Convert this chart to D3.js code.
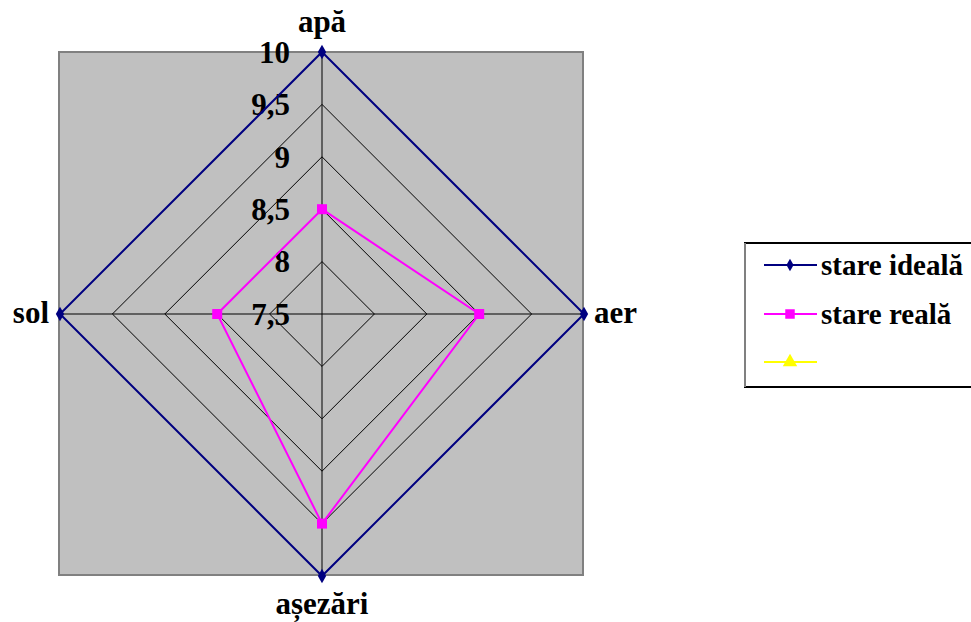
<!DOCTYPE html>
<html><head><meta charset="utf-8">
<script src="https://cdn.jsdelivr.net/npm/d3@7"></script>
<style>body{margin:0;background:#fff}svg{display:block}</style>
</head><body>
<script>
const categories = ["apă", "aer", "așezări", "sol"];
const ideal = [10, 10, 10, 10];
const real = [8.5, 9, 9.5, 8.5];
const ticks = [7.5, 8, 8.5, 9, 9.5, 10];
const tickLabels = ["7,5", "8", "8,5", "9", "9,5", "10"];
const seriesNames = ["stare ideală", "stare reală", ""];

const W = 971, H = 622;
const cx = 322, cy = 314, R = 262;
const svg = d3.select("body").append("svg").attr("width", W).attr("height", H);
const font = "'Liberation Serif','Times New Roman',serif";

svg.append("rect").attr("x", 59).attr("y", 52).attr("width", 524).attr("height", 523)
  .attr("fill", "#c0c0c0").attr("stroke", "#808080").attr("stroke-width", 2);

const r = d3.scaleLinear().domain([7.5, 10]).range([0, R]);
const ang = d3.scaleBand().domain(categories).range([0, 2 * Math.PI]);
const pt = (c, v) => {
  const a = ang(c);
  return [cx + r(v) * Math.sin(a), cy - r(v) * Math.cos(a)];
};

// grid rings
ticks.forEach(t => {
  svg.append("path").attr("d", d3.line()(categories.map(c => pt(c, t))) + "Z")
    .attr("fill", "none").attr("stroke", "#000").attr("stroke-width", 1);
});
// spokes
categories.forEach(c => {
  const p = pt(c, 10);
  svg.append("line").attr("x1", cx).attr("y1", cy).attr("x2", p[0]).attr("y2", p[1])
    .attr("stroke", "#000").attr("stroke-width", 1);
});

// tick labels
ticks.forEach((t, i) => {
  svg.append("text").attr("x", 290).attr("y", cy - r(t)).attr("dy", "0.35em")
    .attr("text-anchor", "end").attr("font-family", font).attr("font-weight", "bold")
    .attr("font-size", 31).text(tickLabels[i]);
});

// series
function drawSeries(vals, color, marker) {
  const pts = categories.map((c, i) => pt(c, vals[i]));
  svg.append("path").attr("d", d3.line()(pts) + "Z").attr("fill", "none")
    .attr("stroke", color).attr("stroke-width", 2);
  pts.forEach(p => {
    svg.append("path").attr("d", d3.symbol().type(marker).size(marker === d3.symbolDiamond ? 60 : 100)())
      .attr("transform", `translate(${p[0]},${p[1]})`).attr("fill", color);
  });
}
drawSeries(ideal, "#000080", d3.symbolDiamond);
drawSeries(real, "#ff00ff", d3.symbolSquare);

// category labels
const labPos = {
  "apă": [cx, 32, "middle"],
  "aer": [594, 323, "start"],
  "așezări": [cx, 614, "middle"],
  "sol": [49, 323, "end"]
};
categories.forEach(c => {
  const [x, y, a] = labPos[c];
  svg.append("text").attr("x", x).attr("y", y).attr("text-anchor", a)
    .attr("font-family", font).attr("font-weight", "bold").attr("font-size", 31).text(c);
});

// legend
const lg = svg.append("g");
lg.append("rect").attr("x", 745).attr("y", 243).attr("width", 240).attr("height", 144)
  .attr("fill", "#fff").attr("stroke", "#000").attr("stroke-width", 2);
lg.append("line").attr("x1", 745).attr("y1", 243).attr("x2", 745).attr("y2", 387)
  .attr("stroke", "#808080").attr("stroke-width", 2);
const lcolors = ["#000080", "#ff00ff", "#ffff00"];
const lmarks = [d3.symbolDiamond, d3.symbolSquare, d3.symbolTriangle];
const lys = [265, 314, 362];
seriesNames.forEach((n, i) => {
  const y = lys[i];
  lg.append("line").attr("x1", 764).attr("x2", 817).attr("y1", y).attr("y2", y)
    .attr("stroke", lcolors[i]).attr("stroke-width", 2);
  lg.append("path").attr("d", d3.symbol().type(lmarks[i]).size(i === 0 ? 45 : 90)())
    .attr("transform", `translate(790,${y})`).attr("fill", lcolors[i]);
  lg.append("text").attr("x", 821).attr("y", y).attr("dy", "0.35em")
    .attr("font-family", font).attr("font-weight", "bold").attr("font-size", 29).text(n);
});
</script>
</body></html>
